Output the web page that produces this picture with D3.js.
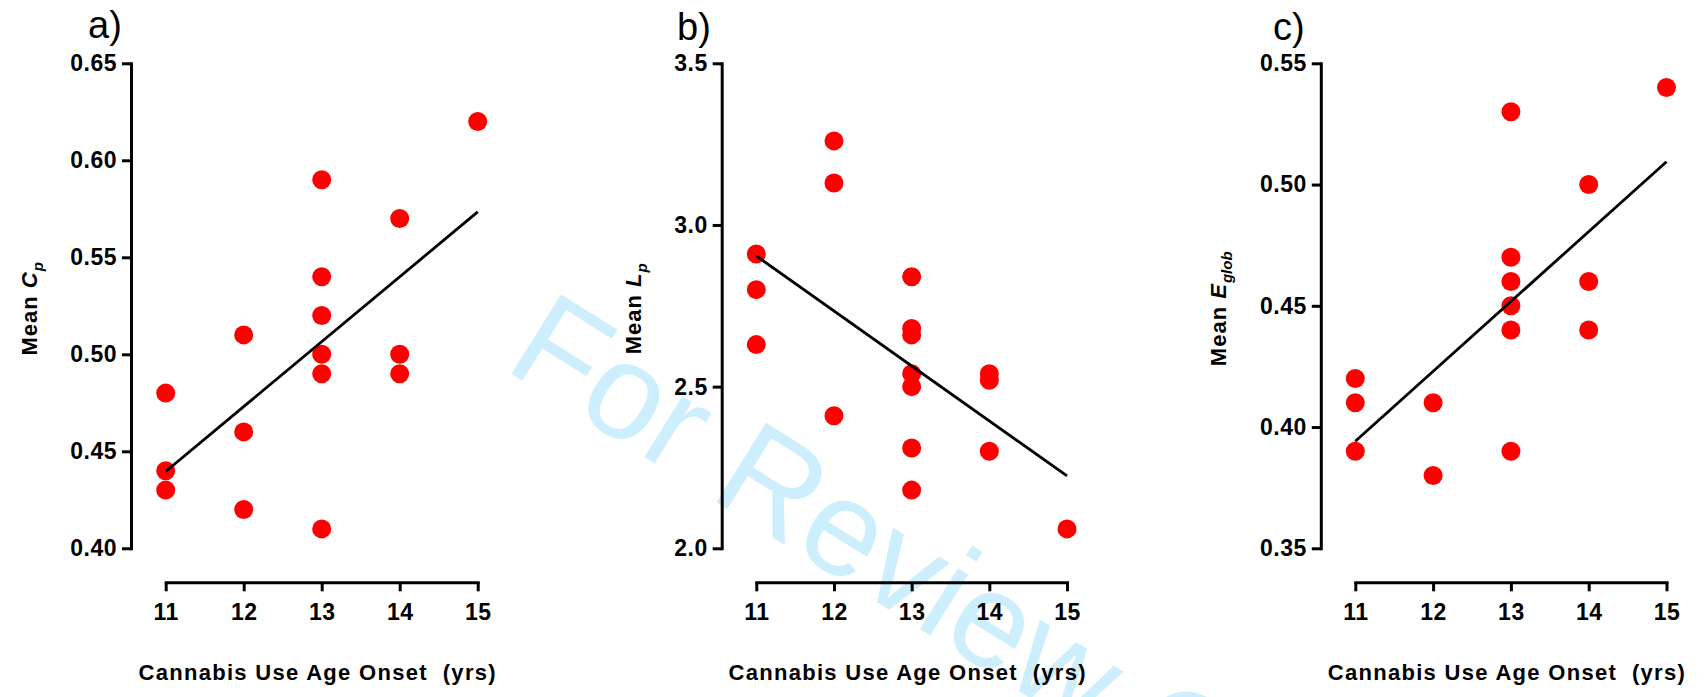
<!DOCTYPE html>
<html>
<head>
<meta charset="utf-8">
<script src="https://cdn.jsdelivr.net/npm/d3@7"></script>
<style>
  body { margin: 0; background: #fff; }
  svg { display: block; }
  .axis .domain { stroke: #000; stroke-width: 3; stroke-linecap: square; }
  .axis .tick line { stroke: #000; stroke-width: 3; }
  .axis .tick text { font-family: "Liberation Sans", Arial, sans-serif; font-weight: bold; font-size: 23px; fill: #000; letter-spacing: 0.5px; }
</style>
</head>
<body>
<svg width="1706" height="697"></svg>
<script>
// onset age on the x axis (same for all three panels)
var years = [11, 12, 13, 14, 15];

// a) mean clustering coefficient
var cpOnset = [11, 11, 11, 12, 12, 12, 13, 13, 13, 13, 13, 13, 14, 14, 14, 15];
var cpMean = [0.48, 0.44, 0.43, 0.51, 0.46, 0.42, 0.59, 0.54, 0.52, 0.50, 0.49, 0.41, 0.57, 0.50, 0.49, 0.62];
var cpTicks = [0.40, 0.45, 0.50, 0.55, 0.60, 0.65];

// b) mean path length
var lpOnset = [11, 11, 11, 12, 12, 12, 13, 13, 13, 13, 13, 13, 13, 14, 14, 14, 15];
var lpMean = [2.91, 2.80, 2.63, 3.26, 3.13, 2.41, 2.84, 2.68, 2.66, 2.54, 2.50, 2.31, 2.18, 2.54, 2.52, 2.30, 2.06];
var lpTicks = [2.0, 2.5, 3.0, 3.5];

// c) mean global efficiency
var egOnset = [11, 11, 11, 12, 12, 13, 13, 13, 13, 13, 13, 14, 14, 14, 15];
var egMean = [0.42, 0.41, 0.39, 0.41, 0.38, 0.53, 0.47, 0.46, 0.45, 0.44, 0.39, 0.50, 0.46, 0.44, 0.54];
var egTicks = [0.35, 0.40, 0.45, 0.50, 0.55];

var xTitle = "Cannabis Use Age Onset  (yrs)";

var svg = d3.select("svg");
var font = '"Liberation Sans", Arial, sans-serif';

// watermark behind everything
svg.append("text")
    .attr("transform", "translate(502,368) rotate(32)")
    .attr("font-family", font)
    .attr("font-size", 136)
    .attr("fill", "#cdeefc")
    .text("For Review Only");

var panels = [
    { tag: "a)", sym: "C", sub: "p", xs: cpOnset, ys: cpMean, ticks: cpTicks, fmt: ".2f",
      axisX: 131, x0: 165.7, x1: 477.7, tagX: 88, tagY: 38, titleX: 37 },
    { tag: "b)", sym: "L", sub: "p", xs: lpOnset, ys: lpMean, ticks: lpTicks, fmt: ".1f",
      axisX: 721.7, x0: 756.3, x1: 1067, tagX: 677, tagY: 40, titleX: 641 },
    { tag: "c)", sym: "E", sub: "glob", xs: egOnset, ys: egMean, ticks: egTicks, fmt: ".2f",
      axisX: 1320.8, x0: 1355.3, x1: 1666.5, tagX: 1273, tagY: 40, titleX: 1226 }
];

var yTop = 63.3, yBot = 548.3, xAxisY = 582.3;

panels.forEach(function(p) {
    var g = svg.append("g");

    var x = d3.scaleLinear().domain([years[0], years[years.length - 1]]).range([p.x0, p.x1]);
    var y = d3.scaleLinear().domain(d3.extent(p.ticks)).range([yBot, yTop]);

    g.append("g")
        .attr("class", "axis")
        .attr("transform", "translate(0," + xAxisY + ")")
        .call(d3.axisBottom(x).tickValues(years).tickFormat(d3.format("d"))
            .tickSize(9).tickSizeOuter(0).tickPadding(12));

    g.append("g")
        .attr("class", "axis")
        .attr("transform", "translate(" + p.axisX + ",0)")
        .call(d3.axisLeft(y).tickValues(p.ticks).tickFormat(d3.format(p.fmt))
            .tickSize(9).tickSizeOuter(0).tickPadding(5));

    // least squares fit
    var mx = d3.mean(p.xs), my = d3.mean(p.ys);
    var sxy = d3.sum(p.xs, function(v, i) { return (v - mx) * (p.ys[i] - my); });
    var sxx = d3.sum(p.xs, function(v) { return (v - mx) * (v - mx); });
    var slope = sxy / sxx, icpt = my - slope * mx;
    var ends = [years[0], years[years.length - 1]];

    g.selectAll("circle")
        .data(p.xs)
        .enter().append("circle")
        .attr("cx", function(d) { return x(d); })
        .attr("cy", function(d, i) { return y(p.ys[i]); })
        .attr("r", 9.5)
        .attr("fill", "#ff0000");

    g.append("path")
        .attr("d", d3.line()(ends.map(function(v) { return [x(v), y(icpt + slope * v)]; })))
        .attr("stroke", "#000")
        .attr("stroke-width", 2.8)
        .attr("fill", "none");

    g.append("text")
        .attr("x", p.tagX)
        .attr("y", p.tagY)
        .attr("font-family", font)
        .attr("font-size", 38)
        .text(p.tag);

    var yt = g.append("text")
        .attr("transform", "translate(" + p.titleX + "," + ((yTop + yBot) / 2 + 3) + ") rotate(-90)")
        .attr("text-anchor", "middle")
        .attr("font-family", font)
        .attr("font-weight", "bold")
        .attr("font-size", 22)
        .attr("letter-spacing", 1);
    yt.append("tspan").text("Mean ");
    yt.append("tspan").attr("font-style", "italic").text(p.sym);
    yt.append("tspan").attr("font-style", "italic").attr("font-size", 15)
        .attr("dy", 6).attr("letter-spacing", 0).text(p.sub);

    g.append("text")
        .attr("x", (p.x0 + p.x1) / 2 - 4)
        .attr("y", 680)
        .attr("text-anchor", "middle")
        .attr("font-family", font)
        .attr("font-weight", "bold")
        .attr("font-size", 22)
        .attr("letter-spacing", 1.3)
        .style("white-space", "pre")
        .text(xTitle);
});
</script>
</body>
</html>
